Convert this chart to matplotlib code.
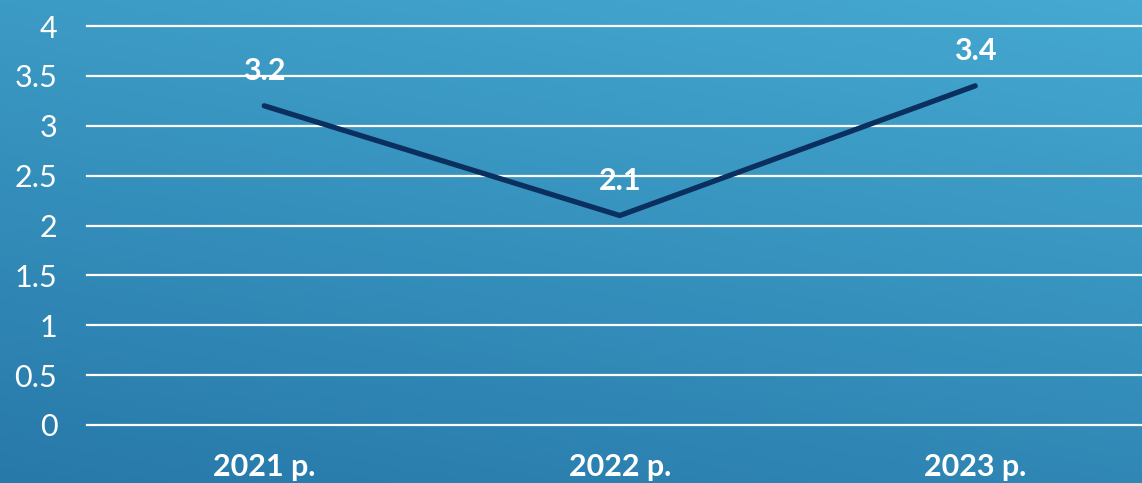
import numpy as np
import matplotlib.pyplot as plt
from matplotlib.colors import LinearSegmentedColormap

years = ['2021 р.', '2022 р.', '2023 р.']
values = [3.2, 2.1, 3.4]
yticks = [0, 0.5, 1, 1.5, 2, 2.5, 3, 3.5, 4]
ytick_labels = ['0', '0.5', '1', '1.5', '2', '2.5', '3', '3.5', '4']

W, H = 1142, 483
fig = plt.figure(figsize=(W / 100, H / 100), dpi=100)
fam = ['Lato', 'DejaVu Sans']

# background gradient: darker bottom-left, lighter top-right
bg = fig.add_axes([0, 0, 1, 1])
gx, gy = np.meshgrid(np.linspace(0, 1, 300), np.linspace(1, 0, 150))
t = 0.3 * gx + 0.7 * gy
cmap = LinearSegmentedColormap.from_list('bg', ['#2779a9', '#45a9d1'])
bg.imshow(t, cmap=cmap, aspect='auto', extent=[0, 1, 0, 1])
bg.set_axis_off()

# plot area
x0 = 86.5 / W
w = 1066.5 / W
b = (H - 425) / H
h = 399 / H
ax = fig.add_axes([x0, b, w, h])
ax.patch.set_alpha(0)
ax.set_xlim(-0.5, 2.5)
ax.set_ylim(0, 4)

for y in yticks:
    ax.axhline(y, color='white', lw=1.6, clip_on=False, zorder=1)

x = np.arange(len(years))
ax.plot(x, values, color='#0b2f5f', lw=3.8, solid_capstyle='round',
        solid_joinstyle='miter', zorder=3)

for xi, v in zip(x, values):
    ax.annotate(f'{v}', (xi, v), xytext=(0, 25), textcoords='offset points',
                ha='center', va='center', color='white', fontsize=22,
                fontweight='bold', family=fam, zorder=4)

ax.set_xticks(x)
ax.set_xticklabels(years, color='white', fontsize=22, fontweight='bold',
                   family=fam)
ax.set_yticks(yticks)
ax.set_yticklabels(ytick_labels, color='white', fontsize=22,
                   fontweight='normal', family=fam)
ax.tick_params(axis='x', length=0, pad=20)
ax.tick_params(axis='y', length=0, pad=21)
for s in ax.spines.values():
    s.set_visible(False)

fig.savefig('out.png', dpi=100)
